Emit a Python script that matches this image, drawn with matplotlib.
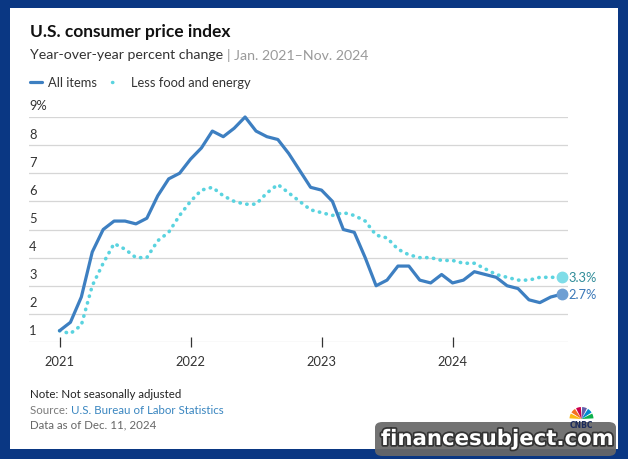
import numpy as np
import matplotlib.pyplot as plt
from matplotlib.patches import Rectangle, FancyBboxPatch, Wedge
import matplotlib.patheffects as pe
import matplotlib.transforms as mtransforms

# ---------------------------------------------------------------------------
# Data: CPI year-over-year % change, Jan 2021 - Nov 2024 (monthly)
# ---------------------------------------------------------------------------
all_items = [
    1.4, 1.7, 2.6, 4.2, 5.0, 5.3, 5.3, 5.2, 5.4, 6.2, 6.8, 7.0,   # 2021
    7.5, 7.9, 8.5, 8.3, 8.6, 9.0, 8.5, 8.3, 8.2, 7.7, 7.1, 6.5,   # 2022
    6.4, 6.0, 5.0, 4.9, 4.0, 3.0, 3.2, 3.7, 3.7, 3.2, 3.1, 3.4,   # 2023
    3.1, 3.2, 3.5, 3.4, 3.3, 3.0, 2.9, 2.5, 2.4, 2.6, 2.7,        # 2024
]
core = [
    1.4, 1.3, 1.6, 3.0, 3.8, 4.5, 4.3, 4.0, 4.0, 4.6, 4.9, 5.5,
    6.0, 6.4, 6.5, 6.2, 6.0, 5.9, 5.9, 6.3, 6.6, 6.3, 6.0, 5.7,
    5.6, 5.5, 5.6, 5.5, 5.3, 4.8, 4.7, 4.3, 4.1, 4.0, 4.0, 3.9,
    3.9, 3.8, 3.8, 3.6, 3.4, 3.3, 3.2, 3.2, 3.3, 3.3, 3.3,
]
months = np.arange(len(all_items))
year_ticks = [0, 12, 24, 36]
year_labels = ["2021", "2022", "2023", "2024"]
y_ticks = [1, 2, 3, 4, 5, 6, 7, 8, 9]

W, H = 628, 460
NAVY = "#0a3783"
BLUE = "#3d7fc1"
CYAN = "#5ad3df"
GRID = "#d6d6d6"
DOTS = (0, (0.1, 1.8))

plt.rcParams["font.family"] = ["Lato", "DejaVu Sans"]


def fx(x):
    return x / W


def fy(y):
    return 1 - y / H


fig = plt.figure(figsize=(W / 100, H / 100), dpi=100, facecolor=NAVY)

# white card
fig.patches.append(Rectangle((fx(10), fy(450)), fx(608), 441 / H,
                             transform=fig.transFigure, facecolor="white",
                             edgecolor="none", zorder=-10))

# ---------------------------------------------------------------------------
# Header
# ---------------------------------------------------------------------------
fig.text(fx(30), fy(32), "U.S. consumer price index", fontsize=12.5,
         fontweight="bold", color="#111111", va="center")
t = fig.text(fx(30), fy(55), "Year-over-year percent change ", fontsize=10.2,
             color="#333333", va="center")
fig.canvas.draw()
bb = t.get_window_extent()
fig.text(bb.x1 / W, fy(55), "| Jan. 2021\u2013Nov. 2024", fontsize=10.2,
         color="#9a9a9a", va="center")

# legend
fig.lines.append(plt.Line2D([fx(30), fx(42)], [fy(83), fy(83)],
                            transform=fig.transFigure, color=BLUE, lw=2.3,
                            solid_capstyle="round"))
fig.text(fx(48), fy(83), "All items", fontsize=9.3, color="#333333",
         va="center")
fig.lines.append(plt.Line2D([fx(112), fx(118)], [fy(83), fy(83)],
                            transform=fig.transFigure, color=CYAN, lw=2.5,
                            ls=DOTS, dash_capstyle="round"))
fig.text(fx(131), fy(83), "Less food and energy", fontsize=9.3,
         color="#333333", va="center")

# ---------------------------------------------------------------------------
# Chart
# ---------------------------------------------------------------------------
ax = fig.add_axes([fx(29), fy(343), (568 - 29) / W, (343 - 118) / H],
                  zorder=1)
ax.set_facecolor("none")
ppm = 131 / 12
ax.set_xlim(-(59.5 - 29) / ppm, 46 + (568 - 561.7) / ppm)
ax.set_ylim(1, 9)
for s in ax.spines.values():
    s.set_visible(False)
ax.set_xticks([])
ax.set_yticks([])

for v in y_ticks:
    ax.axhline(v, color=GRID, lw=0.9, zorder=1)
    lab = f"{v}%" if v == y_ticks[-1] else str(v)
    ax.annotate(lab, xy=(0, v), xycoords=("axes fraction", "data"),
                xytext=(0, 4), textcoords="offset points",
                fontsize=9.3, color="#333333", ha="left", va="bottom")

for m, lab in zip(year_ticks, year_labels):
    ax.plot([m], [1], marker=(2, 0, 0), ms=7, mew=0.9,
            color="#333333", clip_on=False, zorder=2)
    ax.annotate(lab, xy=(m, 1), xycoords="data", xytext=(0, -9),
                textcoords="offset points", fontsize=9.3, color="#333333",
                ha="center", va="top")

ax.plot(months, core, color=CYAN, lw=2.6, ls=DOTS,
        dash_capstyle="round", zorder=3, clip_on=False)
ax.plot(months, all_items, color=BLUE, lw=2.3, solid_joinstyle="round",
        solid_capstyle="round", zorder=4, clip_on=False)

ax.plot(months[-1], core[-1], "o", ms=7.5, color="#7fdde8", zorder=5,
        clip_on=False)
ax.plot(months[-1], all_items[-1], "o", ms=7.5, color="#6e9fd3", zorder=5,
        clip_on=False)
ax.annotate(f"{core[-1]}%", xy=(months[-1], core[-1]), xytext=(5, 0),
            textcoords="offset points", fontsize=9.3, color="#2f8c99",
            va="center", ha="left", annotation_clip=False)
ax.annotate(f"{all_items[-1]}%", xy=(months[-1], all_items[-1]),
            xytext=(5, 0), textcoords="offset points", fontsize=9.3,
            color="#3a78b8", va="center", ha="left", annotation_clip=False)

# ---------------------------------------------------------------------------
# Footer
# ---------------------------------------------------------------------------
fig.text(fx(30), fy(395), "Note: Not seasonally adjusted", fontsize=8.3,
         color="#222222", va="center")
s = fig.text(fx(30), fy(411), "Source: ", fontsize=8.3, color="#7a7a7a",
             va="center")
fig.canvas.draw()
bb = s.get_window_extent()
fig.text(bb.x1 / W, fy(411), "U.S. Bureau of Labor Statistics", fontsize=8.3,
         color="#3a86c0", va="center")
fig.text(fx(30), fy(425), "Data as of Dec. 11, 2024", fontsize=8.3,
         color="#666666", va="center")

# CNBC peacock (pixel coordinates)
feathers = ["#0db14b", "#0089d0", "#6460aa", "#cc004c", "#f37021", "#fcb711"]
for i, c in enumerate(feathers):
    a0 = i * 30 + 3
    fig.patches.append(Wedge((581.5, H - 420), 12, a0, a0 + 24,
                             transform=mtransforms.IdentityTransform(),
                             facecolor=c, edgecolor="none", zorder=2))
fig.text(fx(581.5), fy(426), "CNBC", fontsize=5.5, fontweight="bold",
         color="#1b2b5c", ha="center", va="center",
         family=["DejaVu Sans"])

# watermark
fig.patches.append(FancyBboxPatch((fx(375), fy(457)), fx(241), 34 / H,
                                  boxstyle="round,pad=0,rounding_size=0.012",
                                  transform=fig.transFigure,
                                  facecolor="#686868", alpha=0.93,
                                  edgecolor="none", zorder=3))
fig.text(fx(497), fy(440), "financesubject.com", fontsize=15.3,
         fontweight="bold", color="white", ha="center", va="center",
         family=["DejaVu Sans"], zorder=4,
         path_effects=[pe.withStroke(linewidth=2.5, foreground="#333333")])

fig.savefig("out.png", dpi=100, facecolor=NAVY)
